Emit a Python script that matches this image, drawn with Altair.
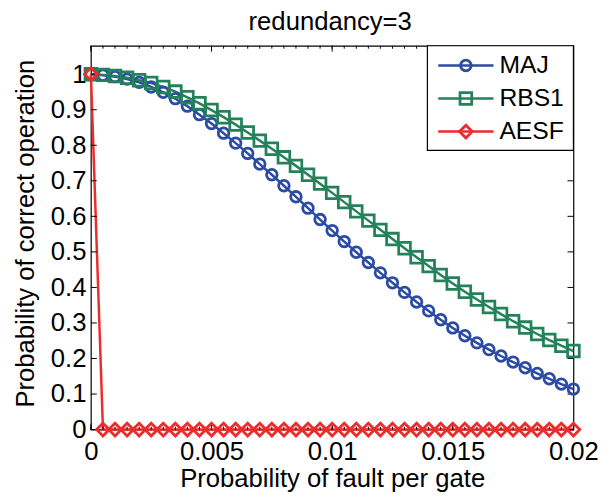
import altair as alt
import pandas as pd

# ---------------- data ----------------
p_values = [0.0, 0.0005, 0.001, 0.0015, 0.002, 0.0025, 0.003, 0.0035, 0.004, 0.0045,
            0.005, 0.0055, 0.006, 0.0065, 0.007, 0.0075, 0.008, 0.0085, 0.009, 0.0095,
            0.01, 0.0105, 0.011, 0.0115, 0.012, 0.0125, 0.013, 0.0135, 0.014, 0.0145,
            0.015, 0.0155, 0.016, 0.0165, 0.017, 0.0175, 0.018, 0.0185, 0.019, 0.0195,
            0.02]

maj = [1.000, 0.997, 0.993, 0.986, 0.977, 0.964, 0.949, 0.931, 0.910, 0.886,
       0.861, 0.834, 0.806, 0.777, 0.747, 0.717, 0.686, 0.655, 0.623, 0.591,
       0.560, 0.529, 0.499, 0.470, 0.441, 0.413, 0.386, 0.359, 0.334, 0.309,
       0.286, 0.264, 0.244, 0.225, 0.207, 0.190, 0.174, 0.158, 0.143, 0.128,
       0.114]

rbs1 = [1.000, 0.998, 0.995, 0.990, 0.983, 0.975, 0.964, 0.951, 0.935, 0.918,
        0.899, 0.879, 0.858, 0.836, 0.813, 0.790, 0.766, 0.742, 0.717, 0.692,
        0.666, 0.640, 0.614, 0.588, 0.562, 0.536, 0.510, 0.485, 0.460, 0.435,
        0.411, 0.388, 0.366, 0.345, 0.325, 0.305, 0.287, 0.269, 0.252, 0.236,
        0.221]

aesf = [1.0, 0.0, 0.0, 0.0, 0.0, 0.0, 0.0, 0.0, 0.0, 0.0,
        0.0, 0.0, 0.0, 0.0, 0.0, 0.0, 0.0, 0.0, 0.0, 0.0,
        0.0, 0.0, 0.0, 0.0, 0.0, 0.0, 0.0, 0.0, 0.0, 0.0,
        0.0, 0.0, 0.0, 0.0, 0.0, 0.0, 0.0, 0.0, 0.0, 0.0,
        0.0]

series_names = ["MAJ", "RBS1", "AESF"]
series_values = [maj, rbs1, aesf]

x_tick_values = [0, 0.005, 0.01, 0.015, 0.02]
y_tick_values = [0, 0.1, 0.2, 0.3, 0.4, 0.5, 0.6, 0.7, 0.8, 0.9, 1.0]

title_text = "redundancy=3"
x_title = "Probability of fault per gate"
y_title = "Probability of correct operation"

# ---------------- styling ----------------
FONT = "Liberation Sans"
FS = 26
FS_LEG = 25
colors = ["#2B4BA5", "#23825A", "#EE2B2B"]
marker_shapes = ["circle", "square", "diamond"]
marker_sizes = [115, 165, 175]
W, H = 489, 389

rows = []
for name, vals in zip(series_names, series_values):
    for p, v in zip(p_values, vals):
        rows.append({"p": p, "value": v, "series": name})
df = pd.DataFrame(rows)
legend_df = pd.DataFrame({"series": series_names})

x_scale = alt.Scale(domain=[0, 0.02], nice=False, zero=False)
y_scale = alt.Scale(domain=[0, 1.08], nice=False, zero=False)
color_scale = alt.Scale(domain=series_names, range=colors)
shape_scale = alt.Scale(domain=series_names, range=marker_shapes)
size_scale = alt.Scale(domain=series_names, range=marker_sizes)

x_axis = alt.Axis(values=x_tick_values, format="~g", ticks=False, domain=False, grid=False,
                  labelFontSize=FS, labelFont=FONT, labelColor="black", labelPadding=9,
                  labelFlush=False, labelOverlap=False,
                  titleFontSize=FS, titleFont=FONT, titleFontWeight="normal",
                  titleColor="black", titleY=58, titleBaseline="alphabetic")
y_axis = alt.Axis(values=y_tick_values, format="~g", ticks=False, domain=False, grid=False,
                  labelFontSize=FS, labelFont=FONT, labelColor="black", labelPadding=5,
                  labelFlush=False, labelOverlap=False,
                  titleFontSize=FS, titleFont=FONT, titleFontWeight="normal",
                  titleColor="black", titleX=-58, titleY=190, titleBaseline="alphabetic")

X = lambda: alt.X("p:Q", scale=x_scale, axis=x_axis, title=x_title)
Y = lambda: alt.Y("value:Q", scale=y_scale, axis=y_axis, title=y_title)

lines = alt.Chart(df).mark_line(strokeWidth=2.5).encode(
    x=X(), y=Y(),
    color=alt.Color("series:N", scale=color_scale, legend=None),
)

points = alt.Chart(df).mark_point(filled=False, strokeWidth=2.8, opacity=1).encode(
    x=X(), y=Y(),
    color=alt.Color("series:N", scale=color_scale, legend=None),
    shape=alt.Shape("series:N", scale=shape_scale, legend=None),
    size=alt.Size("series:N", scale=size_scale, legend=None),
)

xmaj = pd.DataFrame({"p": x_tick_values})
xmin = pd.DataFrame({"p": p_values})
ytk = pd.DataFrame({"value": y_tick_values})


def xr(data, y1, y2):
    return alt.Chart(data).mark_rule(color="black", strokeWidth=1).encode(
        x=X(), y=alt.value(y1), y2=alt.value(y2))


def yr(x1, x2):
    return alt.Chart(ytk).mark_rule(color="black", strokeWidth=1).encode(
        y=Y(), x=alt.value(x1), x2=alt.value(x2))


ticks = [xr(xmaj, H, H - 6), xr(xmaj, 0, 6), xr(xmin, H, H - 3), xr(xmin, 0, 3),
         yr(0, 6), yr(W, W - 6)]

main = alt.layer(lines, *ticks, points)

# ---------------- title (centred above the plot area) ----------------
title_mark = alt.Chart(pd.DataFrame({"t": [title_text]})).mark_text(
    align="center", baseline="alphabetic", font=FONT, fontSize=FS, color="black").encode(
    text="t:N", x=alt.value(W / 2 - 2), y=alt.value(-16))

# ---------------- legend (MATLAB style: line + marker) ----------------
leg_y = alt.Y("series:N", scale=alt.Scale(type="point", domain=series_names, range=[20, 87], padding=0),
              axis=None)
leg_box = alt.Chart(pd.DataFrame({"k": [0]})).mark_rect(
    fill="white", stroke="black", strokeWidth=1.2).encode(
    x=alt.value(341), x2=alt.value(W), y=alt.value(0), y2=alt.value(106))
leg_line = alt.Chart(legend_df).mark_rule(strokeWidth=2.5).encode(
    y=leg_y, x=alt.value(352), x2=alt.value(408),
    color=alt.Color("series:N", scale=color_scale, legend=None))
leg_pt = alt.Chart(legend_df).mark_point(filled=False, strokeWidth=2.8, opacity=1).encode(
    y=leg_y, x=alt.value(380),
    color=alt.Color("series:N", scale=color_scale, legend=None),
    shape=alt.Shape("series:N", scale=shape_scale, legend=None),
    size=alt.Size("series:N", scale=size_scale, legend=None))
leg_txt = alt.Chart(legend_df).mark_text(
    align="left", baseline="middle", font=FONT, fontSize=FS_LEG, color="black").encode(
    y=leg_y, x=alt.value(414), text="series:N")

chart = alt.layer(main, title_mark, leg_box, leg_line, leg_pt, leg_txt).resolve_scale(
    y="independent"
).properties(
    width=W, height=H,
    padding={"left": 84, "top": 35, "right": 32, "bottom": 60},
    autosize=alt.AutoSizeParams(type="none"),
).configure_view(stroke="black", strokeWidth=1.2).configure_axisY(labelOverlap=False)

chart.save("out.html", embed_options={"renderer": "svg", "actions": False})
